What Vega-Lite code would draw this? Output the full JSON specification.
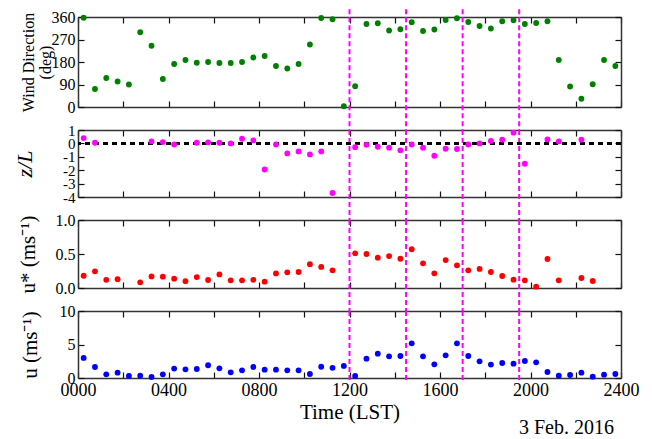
{
  "$schema": "https://vega.github.io/schema/vega-lite/v6.json",
  "padding": {"left": 13, "top": 8, "right": 5, "bottom": 0},
  "spacing": 23,
  "bounds": "flush",
  "title": {"text": "3 Feb. 2016", "orient": "bottom", "anchor": "end", "fontSize": 20, "font": "Liberation Serif", "fontWeight": "normal", "color": "#000", "offset": -4, "dx": -25},
  "datasets": {
    "obs": [
      {"t": 0.25, "wd": 357, "zl": 0.4, "us": 0.18, "u": 3.0},
      {"t": 0.75, "wd": 72, "zl": 0.05, "us": 0.245, "u": 1.64},
      {"t": 1.25, "wd": 116, "zl": null, "us": 0.12, "u": 0.55},
      {"t": 1.75, "wd": 102, "zl": null, "us": 0.13, "u": 0.8},
      {"t": 2.25, "wd": 90, "zl": null, "us": null, "u": 0.3},
      {"t": 2.75, "wd": 299, "zl": null, "us": 0.083, "u": 0.35},
      {"t": 3.25, "wd": 245, "zl": 0.15, "us": 0.17, "u": 0.15},
      {"t": 3.75, "wd": 112, "zl": 0.1, "us": 0.167, "u": 0.55},
      {"t": 4.25, "wd": 172, "zl": -0.08, "us": 0.137, "u": 1.4},
      {"t": 4.75, "wd": 188, "zl": null, "us": 0.1, "u": 1.3},
      {"t": 5.25, "wd": 177, "zl": 0.05, "us": 0.16, "u": 1.34},
      {"t": 5.75, "wd": 180, "zl": 0.08, "us": 0.118, "u": 1.9},
      {"t": 6.25, "wd": 176, "zl": 0.05, "us": 0.2, "u": 1.44},
      {"t": 6.75, "wd": 176, "zl": 0.0, "us": 0.113, "u": 0.85},
      {"t": 7.25, "wd": 180, "zl": 0.35, "us": 0.113, "u": 1.15},
      {"t": 7.75, "wd": 198, "zl": 0.22, "us": 0.12, "u": 1.64},
      {"t": 8.25, "wd": 204, "zl": -1.95, "us": 0.093, "u": 1.24},
      {"t": 8.75, "wd": 164, "zl": -0.08, "us": 0.215, "u": 1.24},
      {"t": 9.25, "wd": 154, "zl": -0.75, "us": 0.23, "u": 1.15},
      {"t": 9.75, "wd": 172, "zl": -0.6, "us": 0.235, "u": 1.15},
      {"t": 10.25, "wd": 250, "zl": -0.82, "us": 0.35, "u": 0.6},
      {"t": 10.75, "wd": 356, "zl": -0.6, "us": 0.31, "u": 1.68},
      {"t": 11.25, "wd": 351, "zl": -3.7, "us": 0.26, "u": 1.52},
      {"t": 11.75, "wd": 3, "zl": null, "us": null, "u": 1.8},
      {"t": 12.25, "wd": 83, "zl": -0.28, "us": 0.51, "u": 0.3},
      {"t": 12.75, "wd": 332, "zl": -0.1, "us": 0.5, "u": 2.89},
      {"t": 13.25, "wd": 335, "zl": -0.25, "us": 0.446, "u": 3.63},
      {"t": 13.75, "wd": 306, "zl": -0.32, "us": 0.47, "u": 3.23},
      {"t": 14.25, "wd": 311, "zl": -0.52, "us": 0.43, "u": 3.28},
      {"t": 14.75, "wd": 339, "zl": -0.08, "us": 0.57, "u": 5.17},
      {"t": 15.25, "wd": 304, "zl": -0.32, "us": 0.363, "u": 3.23},
      {"t": 15.75, "wd": 310, "zl": -0.92, "us": 0.216, "u": 2.04},
      {"t": 16.25, "wd": 348, "zl": -0.4, "us": 0.41, "u": 3.38},
      {"t": 16.75, "wd": 355, "zl": -0.42, "us": 0.333, "u": 5.17},
      {"t": 17.25, "wd": 340, "zl": -0.08, "us": 0.26, "u": 3.28},
      {"t": 17.75, "wd": 324, "zl": 0.0, "us": 0.28, "u": 2.49},
      {"t": 18.25, "wd": 314, "zl": 0.18, "us": 0.235, "u": 2.0},
      {"t": 18.75, "wd": 343, "zl": 0.28, "us": 0.176, "u": 2.24},
      {"t": 19.25, "wd": 347, "zl": 0.8, "us": 0.123, "u": 2.14},
      {"t": 19.75, "wd": 332, "zl": -1.52, "us": 0.113, "u": 2.54},
      {"t": 20.25, "wd": 336, "zl": null, "us": 0.02, "u": 2.34},
      {"t": 20.75, "wd": 343, "zl": 0.3, "us": 0.426, "u": 0.9},
      {"t": 21.25, "wd": 188, "zl": 0.15, "us": 0.113, "u": 0.35},
      {"t": 21.75, "wd": 82, "zl": null, "us": null, "u": 0.45},
      {"t": 22.25, "wd": 33, "zl": 0.28, "us": 0.147, "u": 0.8},
      {"t": 22.75, "wd": 91, "zl": null, "us": 0.103, "u": 0.2},
      {"t": 23.25, "wd": 188, "zl": null, "us": null, "u": 0.5},
      {"t": 23.75, "wd": 164, "zl": null, "us": null, "u": 0.6}
    ],
    "lines": [{"t": 12}, {"t": 14.5}, {"t": 17}, {"t": 19.5}]
  },
  "vconcat": [
    {
      "width": 543, "height": 90,
      "resolve": {"axis": {"x": "independent", "y": "independent"}},
      "layer": [
        {
          "data": {"name": "lines"},
          "mark": {"type": "rule", "color": "#ff00ff", "strokeDash": [5, 3], "strokeWidth": 2},
          "encoding": {
            "x": {"field": "t", "type": "quantitative", "scale": {"domain": [0, 24], "nice": false}, "axis": {"orient": "top", "labels": false, "title": null, "values": [0,2,4,6,8,10,12,14,16,18,20,22,24]}},
            "y": {"datum": 391, "type": "quantitative", "scale": {"domain": [0, 360], "nice": false}, "axis": {"orient": "right", "labels": false, "title": null, "values": [0, 90, 180, 270, 360]}},
            "y2": {"datum": -92}
          }
        },
        {
          "data": {"name": "obs"},
          "mark": {"type": "circle", "size": 34, "color": "#008000", "opacity": 1},
          "encoding": {
            "x": {"field": "t", "type": "quantitative", "scale": {"domain": [0, 24], "nice": false}, "axis": {"orient": "bottom", "labels": false, "title": null, "values": [0,2,4,6,8,10,12,14,16,18,20,22,24]}},
            "y": {"field": "wd", "type": "quantitative", "scale": {"domain": [0, 360], "nice": false}, "axis": {"orient": "left", "values": [0, 90, 180, 270, 360], "title": ["Wind Direction", "(deg)"], "titleFontSize": 16, "labelFontSize": 16, "titlePadding": -2, "titleLineHeight": 17}}
          }
        }
      ]
    },
    {
      "width": 543, "height": 67,
      "resolve": {"axis": {"x": "independent", "y": "independent"}},
      "layer": [
        {
          "data": {"name": "lines"},
          "mark": {"type": "rule", "color": "#ff00ff", "strokeDash": [5, 3], "strokeWidth": 2},
          "encoding": {
            "x": {"field": "t", "type": "quantitative", "scale": {"domain": [0, 24], "nice": false}, "axis": {"orient": "top", "labels": false, "title": null, "values": [0,2,4,6,8,10,12,14,16,18,20,22,24]}},
            "y": {"datum": 1, "type": "quantitative", "scale": {"domain": [-4, 1], "nice": false}, "axis": {"orient": "right", "labels": false, "title": null, "values": [-4, -3, -2, -1, 0, 1]}},
            "y2": {"datum": -5.72}
          }
        },
        {
          "data": {"name": "obs"},
          "mark": {"type": "rule", "color": "#000", "strokeDash": [5, 4], "strokeWidth": 1.5},
          "encoding": {
            "y": {"datum": 0, "type": "quantitative", "axis": null}
          }
        },
        {
          "data": {"name": "obs"},
          "mark": {"type": "circle", "size": 34, "color": "#ff00ff", "opacity": 1},
          "encoding": {
            "x": {"field": "t", "type": "quantitative", "scale": {"domain": [0, 24], "nice": false}, "axis": {"orient": "bottom", "labels": false, "title": null, "values": [0,2,4,6,8,10,12,14,16,18,20,22,24]}},
            "y": {"field": "zl", "type": "quantitative", "scale": {"domain": [-4, 1], "nice": false}, "axis": {"orient": "left", "values": [-4, -3, -2, -1, 0, 1], "labelExpr": "toString(datum.value)", "title": "z/L", "titleFontSize": 22, "titleFontStyle": "italic", "labelFontSize": 15, "titlePadding": 26}}
          }
        }
      ]
    },
    {
      "width": 543, "height": 68,
      "resolve": {"axis": {"x": "independent", "y": "independent"}},
      "layer": [
        {
          "data": {"name": "lines"},
          "mark": {"type": "rule", "color": "#ff00ff", "strokeDash": [5, 3], "strokeWidth": 2},
          "encoding": {
            "x": {"field": "t", "type": "quantitative", "scale": {"domain": [0, 24], "nice": false}, "axis": {"orient": "top", "labels": false, "title": null, "values": [0,2,4,6,8,10,12,14,16,18,20,22,24]}},
            "y": {"datum": 1, "type": "quantitative", "scale": {"domain": [0, 1], "nice": false}, "axis": {"orient": "right", "labels": false, "title": null, "values": [0, 0.5, 1]}},
            "y2": {"datum": -0.34}
          }
        },
        {
          "data": {"name": "obs"},
          "mark": {"type": "circle", "size": 34, "color": "#ff0000", "opacity": 1},
          "encoding": {
            "x": {"field": "t", "type": "quantitative", "scale": {"domain": [0, 24], "nice": false}, "axis": {"orient": "bottom", "labels": false, "title": null, "values": [0,2,4,6,8,10,12,14,16,18,20,22,24]}},
            "y": {"field": "us", "type": "quantitative", "scale": {"domain": [0, 1], "nice": false}, "axis": {"orient": "left", "values": [0, 0.5, 1], "format": ".1f", "title": "u* (ms⁻¹)", "titleFontSize": 21, "labelFontSize": 16, "titlePadding": 17}}
          }
        }
      ]
    },
    {
      "width": 543, "height": 67,
      "resolve": {"axis": {"x": "independent", "y": "independent"}},
      "layer": [
        {
          "data": {"name": "lines"},
          "mark": {"type": "rule", "color": "#ff00ff", "strokeDash": [5, 3], "strokeWidth": 2},
          "encoding": {
            "x": {"field": "t", "type": "quantitative", "scale": {"domain": [0, 24], "nice": false}, "axis": {"orient": "top", "labels": false, "title": null, "values": [0,2,4,6,8,10,12,14,16,18,20,22,24]}},
            "y": {"datum": 10, "type": "quantitative", "scale": {"domain": [0, 10], "nice": false}, "axis": {"orient": "right", "labels": false, "title": null, "values": [0, 5, 10]}},
            "y2": {"datum": -0.36}
          }
        },
        {
          "data": {"name": "obs"},
          "mark": {"type": "circle", "size": 34, "color": "#0000ff", "opacity": 1},
          "encoding": {
            "x": {"field": "t", "type": "quantitative", "scale": {"domain": [0, 24], "nice": false}, "axis": {"orient": "bottom", "values": [0,2,4,6,8,10,12,14,16,18,20,22,24], "labelExpr": "datum.value % 4 == 0 ? pad(toString(datum.value * 100), 4, '0', 'left') : ''", "labelFontSize": 18, "labelFlush": false, "title": "Time (LST)", "titleFontSize": 21, "titlePadding": 2}},
            "y": {"field": "u", "type": "quantitative", "scale": {"domain": [0, 10], "nice": false}, "axis": {"orient": "left", "values": [0, 5, 10], "title": "u (ms⁻¹)", "titleFontSize": 21, "labelFontSize": 16, "titlePadding": 19}}
          }
        }
      ]
    }
  ],
  "config": {
    "view": {"stroke": null},
    "font": "Liberation Serif",
    "axis": {
      "domainColor": "#333",
      "domainWidth": 1.5,
      "tickColor": "#111",
      "tickSize": -6,
      "tickWidth": 1.2,
      "labelPadding": 9,
      "labelColor": "#000",
      "titleColor": "#000",
      "labelFont": "Liberation Serif",
      "titleFont": "Liberation Serif",
      "titleFontWeight": "normal",
      "grid": false,
      "labelFlush": false,
      "labelOverlap": false
    }
  }
}
